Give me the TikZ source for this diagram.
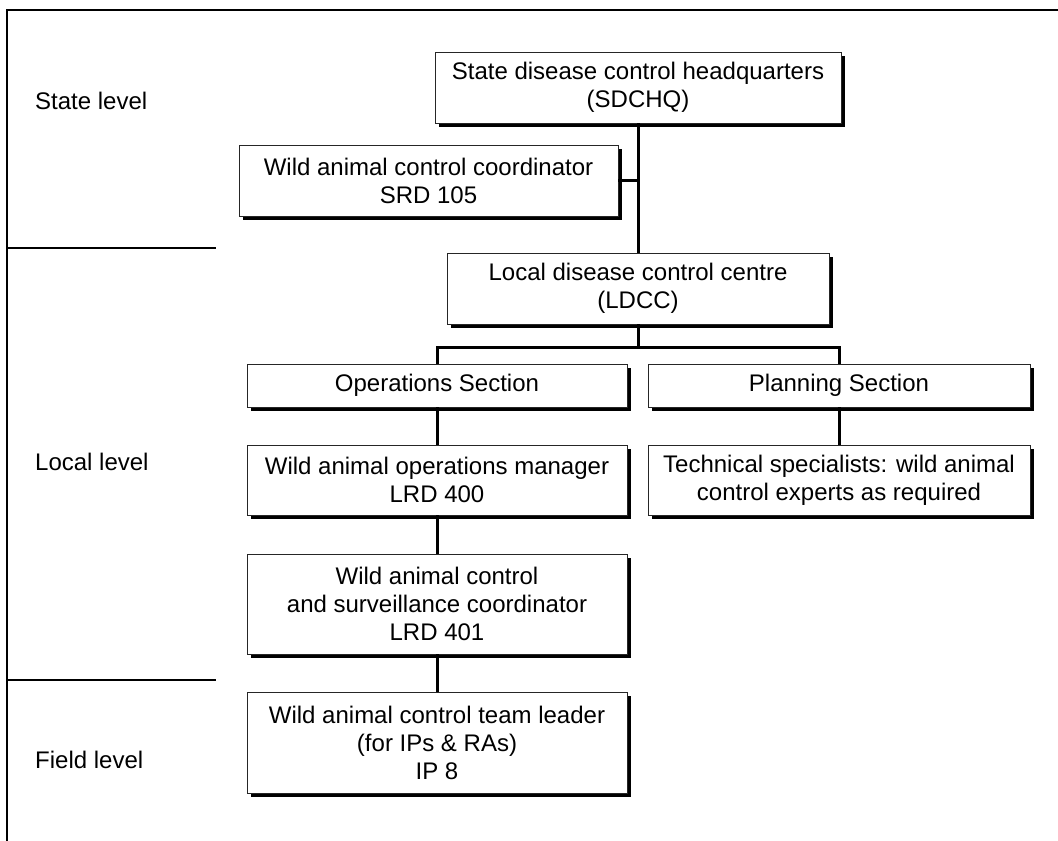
\documentclass[tikz,border=0pt]{standalone}
\usepackage{fontspec}
\setmainfont{Liberation Sans}
\usetikzlibrary{shadows}
\begin{document}
\begin{tikzpicture}[x=1pt,y=-1pt,
  orgbox/.style={draw=black!85, line width=0.9pt, fill=white, align=center,
    inner sep=2pt, font=\fontsize{24}{28}\selectfont,
    drop shadow={shadow xshift=4pt, shadow yshift=-4pt, fill=black, opacity=1}},
  levellabel/.style={anchor=west, inner sep=0pt, font=\fontsize{24}{28}\selectfont},
  conn/.style={line width=3pt, black},
  frameline/.style={line width=2.6pt, black}]
\useasboundingbox (0,0) rectangle (1058,841);
% frame and level dividers
\coordinate (ftl) at (7,10);
\coordinate (ftr) at (1058,10);
\coordinate (fbl) at (7,841);
\draw[frameline] (ftr) -- (ftl) -- (fbl);
\coordinate (d1a) at (7,248);
\coordinate (d1b) at (216,248);
\coordinate (d2a) at (7,680);
\coordinate (d2b) at (216,680);
\draw[frameline] (d1a) -- (d1b);
\draw[frameline] (d2a) -- (d2b);
% level labels
\node[levellabel] (lstate) at (35,101) {State level};
\node[levellabel] (llocal) at (35,462) {Local level};
\node[levellabel] (lfield) at (35,760) {Field level};
% boxes
\node[orgbox, minimum width=406pt, minimum height=71pt] (sdchq) at (638,87.5)
  {State disease control headquarters\\(SDCHQ)};
\node[orgbox, minimum width=379pt, minimum height=71pt] (coord) at (428.5,180.5)
  {Wild animal control coordinator\\SRD 105};
\node[orgbox, minimum width=382pt, minimum height=71pt] (ldcc) at (638,288.5)
  {Local disease control centre\\(LDCC)};
\node[orgbox, minimum width=380pt, minimum height=43pt] (ops) at (437,385.5)
  {Operations Section};
\node[orgbox, minimum width=382pt, minimum height=43pt] (plan) at (839,385.5)
  {Planning Section};
\node[orgbox, minimum width=380pt, minimum height=70pt] (waom) at (437,480)
  {Wild animal operations manager\\LRD 400};
\node[orgbox, minimum width=382pt, minimum height=70pt] (tech) at (839,480)
  {Technical specialists: wild animal\\control experts as required};
\node[orgbox, minimum width=380pt, minimum height=100pt] (surv) at (437,604)
  {Wild animal control\\and surveillance coordinator\\LRD 401};
\node[orgbox, minimum width=380pt, minimum height=101pt] (team) at (437,742.5)
  {Wild animal control team leader\\(for IPs \& RAs)\\IP 8};
% connectors
\coordinate (br) at (638,347);
\draw[conn] (sdchq.south) -- (ldcc.north);
\draw[conn] (coord.east) -- (coord.east -| sdchq.south);
\draw[conn] (ldcc.south) -- (br);
\draw[conn] (ops.north) |- (br) -| (plan.north);
\draw[conn] (ops.south) -- (waom.north);
\draw[conn] (plan.south) -- (tech.north);
\draw[conn] (waom.south) -- (surv.north);
\draw[conn] (surv.south) -- (team.north);
\end{tikzpicture}
\end{document}
